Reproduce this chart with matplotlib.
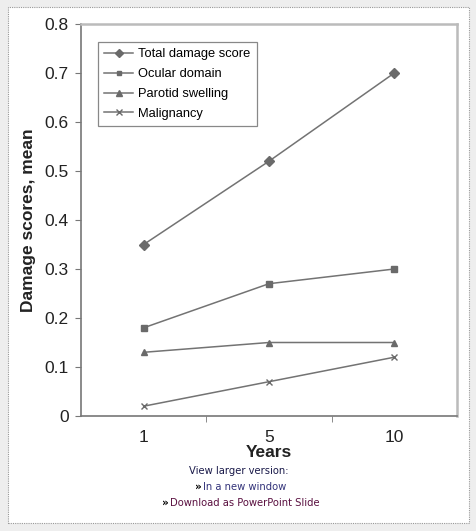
import matplotlib.pyplot as plt
from matplotlib.patches import Rectangle

plt.rcParams['font.family'] = ['Liberation Sans', 'DejaVu Sans']

years = ['1', '5', '10']
total_damage = [0.35, 0.52, 0.70]
ocular = [0.18, 0.27, 0.30]
parotid = [0.13, 0.15, 0.15]
malignancy = [0.02, 0.07, 0.12]

W, H = 476, 531
fig = plt.figure(figsize=(W / 100, H / 100), dpi=100, facecolor='#eeeeee')

# white page panel with dotted border
panel = Rectangle((8 / W, 1 - 523 / H), 461 / W, 516 / H, transform=fig.transFigure,
                  facecolor='white', edgecolor='#999999', linestyle=(0, (1, 1)),
                  linewidth=0.8, zorder=-5)
fig.patches.append(panel)

ax = fig.add_axes([81 / W, 1 - 416 / H, 376 / W, 392 / H])
ax.set_facecolor('white')

x = range(len(years))
lc = '#737373'
mc = '#6a6a6a'
ax.plot(x, total_damage, color=lc, lw=1.1, marker='D', ms=5.5, mfc=mc, mec=mc,
        label='Total damage score')
ax.plot(x, ocular, color=lc, lw=1.1, marker='s', ms=4.3, mfc=mc, mec=mc,
        label='Ocular domain')
ax.plot(x, parotid, color=lc, lw=1.1, marker='^', ms=5, mfc=mc, mec=mc,
        label='Parotid swelling')
ax.plot(x, malignancy, color=lc, lw=1.1, marker='x', ms=5, mfc=mc, mec=mc, mew=1,
        label='Malignancy')

ax.set_xlim(-0.5, 2.5)
ax.set_ylim(0, 0.8)
ax.set_xticks(list(x))
ax.set_xticklabels(years)
ax.set_xticks([0.5, 1.5], minor=True)
ax.tick_params(axis='x', which='major', length=0, pad=10, labelsize=12.5, colors='#222222')
ax.tick_params(axis='x', which='minor', length=4, direction='out', color='#777777')
ax.set_yticks([i / 10 for i in range(9)])
ax.set_yticklabels(['0'] + ['%.1f' % (i / 10) for i in range(1, 9)])
ax.tick_params(axis='y', length=4, direction='out', color='#777777', labelsize=12.5,
               pad=5, labelcolor='#222222')

for s in ['left', 'bottom']:
    ax.spines[s].set_color('#777777')
    ax.spines[s].set_linewidth(1.2)
for s in ['top', 'right']:
    ax.spines[s].set_color('#bbbbbb')
    ax.spines[s].set_linewidth(1.8)

ax.set_xlabel('Years', fontsize=12.5, fontweight='bold', labelpad=0, color='#222222')
ax.set_ylabel('Damage scores, mean', fontsize=12.5, fontweight='bold', labelpad=6,
              color='#222222')

leg = ax.legend(loc='upper left', bbox_to_anchor=(98 / W, 1 - 42 / H),
                bbox_transform=fig.transFigure, borderaxespad=0, fancybox=False,
                fontsize=9.3, handlelength=2.2, handletextpad=0.4, labelspacing=0.6,
                borderpad=0.5, framealpha=1, markerscale=0.8)
leg.get_frame().set_edgecolor('#888888')
leg.get_frame().set_linewidth(0.9)

fig.text(239 / W, 1 - 471 / H, 'View larger version:', ha='center', va='center',
         fontsize=7.2, family='DejaVu Sans', color='#1a1a4a')
fig.text(195 / W, 1 - 487 / H, '»', ha='left', va='center', fontsize=7.5,
         fontweight='bold', family='DejaVu Sans', color='black')
fig.text(203 / W, 1 - 487 / H, 'In a new window', ha='left', va='center',
         fontsize=7.2, family='DejaVu Sans', color='#33337a')
fig.text(162 / W, 1 - 503 / H, '»', ha='left', va='center', fontsize=7.5,
         fontweight='bold', family='DejaVu Sans', color='black')
fig.text(170 / W, 1 - 503 / H, 'Download as PowerPoint Slide', ha='left', va='center',
         fontsize=7.2, family='DejaVu Sans', color='#5a1040')

fig.savefig('out.png', dpi=100, facecolor=fig.get_facecolor())
